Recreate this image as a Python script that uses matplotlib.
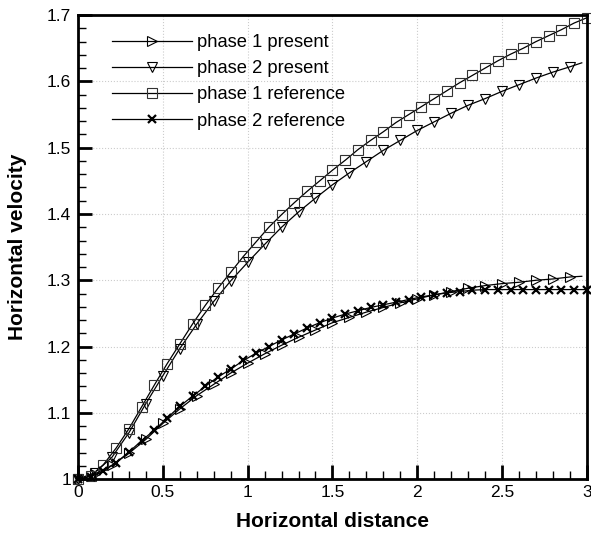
import matplotlib.pyplot as plt
from matplotlib.ticker import MultipleLocator

plt.rcParams["font.family"] = ["Liberation Sans", "DejaVu Sans"]

# present results (markers every 0.1, line runs a bit further)
x_present = [0.0, 0.1, 0.2, 0.3, 0.4, 0.5, 0.6, 0.7, 0.8, 0.9, 1.0, 1.1, 1.2, 1.3, 1.4,
             1.5, 1.6, 1.7, 1.8, 1.9, 2.0, 2.1, 2.2, 2.3, 2.4, 2.5, 2.6, 2.7, 2.8, 2.9, 2.97]
phase1_present = [1.000, 1.008, 1.021, 1.039, 1.060, 1.084, 1.106, 1.126, 1.143, 1.160,
                  1.175, 1.189, 1.202, 1.214, 1.225, 1.236, 1.244, 1.252, 1.259, 1.266,
                  1.272, 1.278, 1.283, 1.288, 1.292, 1.295, 1.297, 1.300, 1.302, 1.305, 1.306]
phase2_present = [1.000, 1.010, 1.033, 1.070, 1.114, 1.156, 1.197, 1.234, 1.268, 1.299,
                  1.327, 1.354, 1.380, 1.403, 1.424, 1.444, 1.462, 1.479, 1.496, 1.511,
                  1.526, 1.539, 1.552, 1.564, 1.574, 1.585, 1.595, 1.605, 1.614, 1.622, 1.628]

# reference results
x_ref = [0.0, 0.075, 0.15, 0.225, 0.3, 0.375, 0.45, 0.525, 0.6, 0.675, 0.75, 0.825, 0.9,
         0.975, 1.05, 1.125, 1.2, 1.275, 1.35, 1.425, 1.5, 1.575, 1.65, 1.725, 1.8, 1.875,
         1.95, 2.025, 2.1, 2.175, 2.25, 2.325, 2.4, 2.475, 2.55, 2.625, 2.7, 2.775, 2.85,
         2.925, 3.0]
phase1_ref = [1.000, 1.005, 1.022, 1.047, 1.076, 1.109, 1.142, 1.174, 1.204, 1.234, 1.262,
              1.288, 1.312, 1.336, 1.358, 1.380, 1.399, 1.417, 1.434, 1.450, 1.466, 1.481,
              1.497, 1.511, 1.524, 1.538, 1.550, 1.562, 1.574, 1.586, 1.598, 1.609, 1.620,
              1.631, 1.641, 1.650, 1.660, 1.669, 1.678, 1.688, 1.696]
phase2_ref = [1.000, 1.004, 1.012, 1.025, 1.041, 1.058, 1.074, 1.092, 1.110, 1.125, 1.140,
              1.154, 1.166, 1.179, 1.190, 1.200, 1.210, 1.219, 1.228, 1.236, 1.243, 1.249,
              1.254, 1.259, 1.263, 1.267, 1.271, 1.275, 1.278, 1.281, 1.283, 1.285, 1.286,
              1.286, 1.286, 1.286, 1.286, 1.286, 1.286, 1.286, 1.286]

x_ticks = [0, 0.5, 1, 1.5, 2, 2.5, 3]
x_tick_labels = ["0", "0.5", "1", "1.5", "2", "2.5", "3"]
y_ticks = [1, 1.1, 1.2, 1.3, 1.4, 1.5, 1.6, 1.7]
y_tick_labels = ["1", "1.1", "1.2", "1.3", "1.4", "1.5", "1.6", "1.7"]

fig = plt.figure(figsize=(5.91, 5.39), dpi=100)
ax = fig.add_axes([0.132, 0.111, 0.861, 0.861])

mk = dict(color="black", linewidth=0.9, markersize=7, markeredgewidth=0.8,
          markerfacecolor="none", clip_on=False)
ax.plot(x_present, phase1_present, marker=">", markevery=list(range(30)),
        label="phase 1 present", **mk)
ax.plot(x_present, phase2_present, marker="v", markevery=list(range(30)),
        label="phase 2 present", **mk)
ax.plot(x_ref, phase1_ref, marker="s", markeredgecolor="#333333",
        label="phase 1 reference", **mk)
ax.plot(x_ref, phase2_ref, marker="x", label="phase 2 reference",
        **{**mk, "markeredgewidth": 1.6, "markersize": 6})

ax.set_xlim(0, 3)
ax.set_ylim(1, 1.7)
ax.set_xticks(x_ticks)
ax.set_xticklabels(x_tick_labels)
ax.set_yticks(y_ticks)
ax.set_yticklabels(y_tick_labels)
ax.xaxis.set_minor_locator(MultipleLocator(0.1))
ax.yaxis.set_minor_locator(MultipleLocator(0.02))
ax.tick_params(which="both", direction="in", top=False, right=False, labelsize=12.5)
ax.tick_params(which="major", length=10, width=2)
ax.tick_params(which="minor", length=6, width=1)
ax.tick_params(axis="x", pad=4)
ax.tick_params(axis="y", pad=5)
for s in ax.spines.values():
    s.set_linewidth(2)

ax.grid(True, which="major", color="#cccccc", linestyle=":", linewidth=0.8)
ax.set_axisbelow(True)

ax.set_xlabel("Horizontal distance", fontsize=15, fontweight="bold", labelpad=9)
ax.set_ylabel("Horizontal velocity", fontsize=15, fontweight="bold", labelpad=14)

ax.legend(loc="upper left", bbox_to_anchor=(0.052, 0.975), frameon=False,
          fontsize=13.2, handlelength=4.4, handletextpad=0.25, labelspacing=0.5,
          borderaxespad=0)

fig.savefig("out.png", dpi=100)
